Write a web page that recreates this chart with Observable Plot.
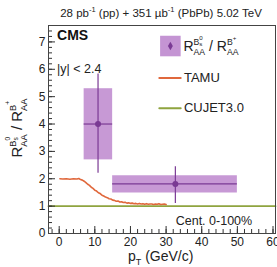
<!DOCTYPE html>
<html>
<head>
<meta charset="utf-8">
<script src="https://cdn.jsdelivr.net/npm/d3@7"></script>
<script src="https://cdn.jsdelivr.net/npm/@observablehq/plot@0.6"></script>
<style>
  body { margin: 0; background: #fff; }
  svg { font-family: "Liberation Sans", Arial, sans-serif; }
</style>
</head>
<body>
<div id="chart"></div>
<script>
// ---- data ----
const binLo = [7, 15];
const binHi = [15, 50];
const ptX = [10.9, 32.6];
const ptY = [4.0, 1.81];
const systLo = [2.69, 1.48];
const systHi = [5.29, 2.11];
const statLo = [2.2, 1.1];
const statHi = [5.83, 2.44];

const tamuX = [0.2, 1, 2, 3, 4, 5, 5.5, 6, 6.5, 7, 7.5, 8, 8.5, 9, 9.5, 10, 10.5, 11, 11.5, 12, 12.5, 13, 13.5, 14, 14.5, 15, 15.5, 16, 16.5, 17, 17.5, 18, 18.5, 19, 19.5, 20, 20.5, 21, 21.5, 22, 22.5, 23, 23.5, 24, 24.5, 25, 25.5, 26, 26.5, 27, 27.5, 28, 28.5, 29, 29.5, 30];
const tamuY = [2.00, 1.99, 2.00, 1.98, 2.00, 1.99, 2.01, 1.97, 1.95, 1.91, 1.86, 1.80, 1.76, 1.69, 1.65, 1.58, 1.55, 1.49, 1.46, 1.40, 1.37, 1.33, 1.31, 1.27, 1.26, 1.22, 1.21, 1.18, 1.19, 1.15, 1.16, 1.13, 1.14, 1.11, 1.12, 1.10, 1.11, 1.09, 1.10, 1.08, 1.10, 1.08, 1.09, 1.07, 1.09, 1.07, 1.08, 1.08, 1.06, 1.08, 1.07, 1.09, 1.06, 1.07, 1.08, 1.06];

const cujetX = [-3, 60.7];
const cujetY = [1, 1];

const xTicks = [0, 10, 20, 30, 40, 50, 60];
const xMinor = d3.range(-2, 61, 2);
const yTicks = [0, 1, 2, 3, 4, 5, 6, 7];
const yMinor = d3.range(0, 7.61, 0.2);

const purpleFill = "#c494d3";
const purpleLine = "#7a3a94";
const orange = "#e0683c";
const green = "#8fa43f";

const points = ptX.map((x, i) => ({x, y: ptY[i], lo: binLo[i], hi: binHi[i], sl: systLo[i], sh: systHi[i], el: statLo[i], eh: statHi[i]}));
const tamu = tamuX.map((x, i) => ({x, y: tamuY[i]}));
const cujet = cujetX.map((x, i) => ({x, y: cujetY[i]}));

const W = 277, H = 267;
const mL = 48, mR = 2, mT = 25, mB = 34;
const plotW = W - mL - mR, plotH = H - mT - mB;

const plot = Plot.plot({
  width: W, height: H,
  marginLeft: mL, marginRight: mR, marginTop: mT, marginBottom: mB,
  x: {domain: [-3, 60.7], axis: null},
  y: {domain: [0, 7.6], axis: null},
  style: {fontFamily: "Liberation Sans, Arial, sans-serif", background: "white"},
  marks: [
    // CUJET3.0
    Plot.line(cujet, {x: "x", y: "y", stroke: green, strokeWidth: 1.8}),
    // systematic boxes
    Plot.rect(points, {x1: "lo", x2: "hi", y1: "sl", y2: "sh", fill: purpleFill, fillOpacity: 0.95}),
    // TAMU
    Plot.line(tamu, {x: "x", y: "y", stroke: orange, strokeWidth: 1.6}),
    // bin width lines
    Plot.ruleY(points, {y: "y", x1: "lo", x2: "hi", stroke: purpleLine, strokeWidth: 1.2}),
    // stat error bars
    Plot.ruleX(points, {x: "x", y1: "el", y2: "eh", stroke: purpleLine, strokeWidth: 1.2}),
    Plot.dot(points, {x: "x", y: "y", r: 3, fill: purpleLine}),
    // inward ticks
    Plot.tickY(yTicks, {y: d => d, insetRight: plotW - 7, stroke: "#333", strokeWidth: 1}),
    Plot.tickY(yMinor, {y: d => d, insetRight: plotW - 4, stroke: "#333", strokeWidth: 1}),
    Plot.tickX(xTicks, {x: d => d, insetTop: plotH - 7, stroke: "#333", strokeWidth: 1}),
    Plot.tickX(xMinor, {x: d => d, insetTop: plotH - 4, stroke: "#333", strokeWidth: 1}),
    // tick labels
    Plot.text(xTicks, {x: d => d, frameAnchor: "bottom", dy: 12, text: d => String(d), fontSize: 12, fill: "#222"}),
    Plot.text(yTicks, {y: d => d, frameAnchor: "left", dx: -3, textAnchor: "end", text: d => String(d), fontSize: 12, fill: "#222"}),
    // legend swatches
    Plot.dot([0], {x: 31.2, y: 6.85, symbol: "square", r: 11.6, fill: purpleFill, stroke: "none"}),
    Plot.dot([0], {x: 31.2, y: 6.85, symbol: "diamond", r: 2.6, fill: purpleLine}),
    Plot.line([{x: 28.1, y: 5.68}, {x: 34.1, y: 5.68}], {x: "x", y: "y", stroke: orange, strokeWidth: 2}),
    Plot.line([{x: 28.1, y: 4.58}, {x: 34.1, y: 4.58}], {x: "x", y: "y", stroke: green, strokeWidth: 2}),
    Plot.text(["TAMU"], {x: 35.0, y: 5.68, text: d => d, textAnchor: "start", fontSize: 13, fill: "#222"}),
    Plot.text(["CUJET3.0"], {x: 35.0, y: 4.58, text: d => d, textAnchor: "start", fontSize: 13, fill: "#222"}),
    // annotations
    Plot.text(["CMS"], {x: -0.6, y: 7.25, text: d => d, textAnchor: "start", fontSize: 14, fontWeight: "bold", fill: "#111"}),
    Plot.text(["|y| < 2.4"], {x: -0.6, y: 6.0, text: d => d, textAnchor: "start", fontSize: 12.5, fill: "#222"}),
    Plot.text(["Cent. 0-100%"], {x: 32.7, y: 0.47, text: d => d, textAnchor: "start", fontSize: 12.5, fill: "#222"}),
    Plot.frame({stroke: "#444", strokeWidth: 1})
  ]
});

document.getElementById("chart").appendChild(plot);

// ---- rich text helper (sub/superscripts) ----
const svg = d3.select(plot);
function rich(g, segs, fill = "#222") {
  g.attr("text-anchor", "start");
  let cursor = 0;
  const starts = [];
  segs.forEach((s) => {
    const start = s.at !== undefined ? starts[s.at] : cursor;
    const t = g.append("text")
      .attr("x", start).attr("y", s.dy || 0)
      .attr("font-size", s.size)
      .attr("fill", fill)
      .attr("text-anchor", "start")
      .style("white-space", "pre")
      .text(s.t);
    const w = t.node().getComputedTextLength();
    starts.push(start);
    cursor = Math.max(cursor, start + w);
  });
  return cursor;
}
function ratioSegs(s) {
  return [
    {t: "R", size: s},
    {t: "B", size: 0.62 * s, dy: -0.42 * s},
    {t: "s", size: 0.44 * s, dy: -0.3 * s},
    {t: "0", size: 0.44 * s, dy: -0.78 * s, at: 2},
    {t: "AA", size: 0.62 * s, dy: 0.3 * s, at: 1},
    {t: " / R", size: s},
    {t: "B", size: 0.62 * s, dy: -0.42 * s},
    {t: "+", size: 0.44 * s, dy: -0.78 * s},
    {t: "AA", size: 0.62 * s, dy: 0.3 * s, at: 6}
  ];
}

const sx = plot.scale("x"), sy = plot.scale("y");

// legend label
const gl = svg.append("g").attr("transform", `translate(${sx.apply(35.0)},${sy.apply(6.85) + 5})`);
rich(gl, ratioSegs(14));

// y axis title
const gy = svg.append("g");
const wy = rich(gy, ratioSegs(15));
gy.attr("transform", `translate(22,128) rotate(-90) translate(${-wy / 2},0)`);

// x axis title
const gx = svg.append("g");
rich(gx, [
  {t: "p", size: 14},
  {t: "T", size: 9, dy: 4},
  {t: " (GeV/c)", size: 14}
]);
gx.attr("transform", `translate(128,${H - 6})`);

// top title
const gt = svg.append("g");
const wt = rich(gt, [
  {t: "28 pb", size: 11.5},
  {t: "-1", size: 7.5, dy: -5},
  {t: " (pp) + 351 \u00b5b", size: 11.5},
  {t: "-1", size: 7.5, dy: -5},
  {t: " (PbPb) 5.02 TeV", size: 11.5}
]);
gt.attr("transform", `translate(${161 - wt / 2},17)`);
</script>
</body>
</html>
